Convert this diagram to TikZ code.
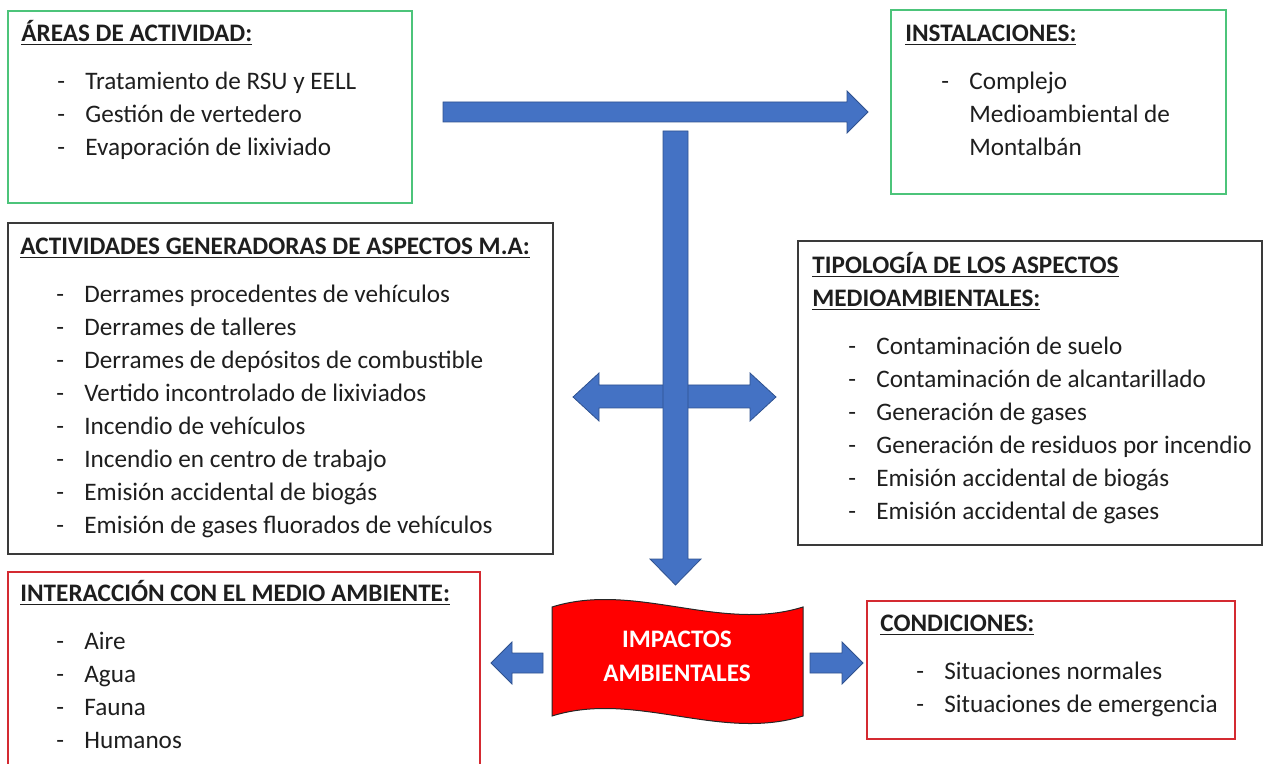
\documentclass[tikz,border=0pt]{standalone}
\usepackage{fontspec}
\setmainfont{Carlito}
\usetikzlibrary{fit}
\definecolor{arrowblue}{HTML}{4472C4}
\definecolor{arrowline}{HTML}{2F528F}
\definecolor{boxgreen}{HTML}{4CC47A}
\definecolor{boxred}{HTML}{D42A31}
\definecolor{boxgray}{HTML}{3A3A3A}
\definecolor{wavered}{HTML}{FF0000}
\definecolor{textgray}{HTML}{1E1E1E}
\newcommand{\boxhead}[1]{\underline{\textbf{#1}}}
\newcommand{\dashitem}[1]{\hspace*{18pt}\makebox[14pt][l]{-}#1}

\begin{document}
\begin{tikzpicture}[x=0.5pt, y=-0.5pt,
  framebox/.style={draw, line width=0.6pt, inner sep=0pt},
  listtext/.style={anchor=north west, inner sep=0pt, align=left, text=textgray, font=\fontsize{12.6}{16.5}\selectfont},
  blockarrow/.style={fill=arrowblue, draw=arrowline, line width=0.4pt, line join=miter}]
  \useasboundingbox (0,0) rectangle (1263,764);

  % Frames
  \node[framebox, boxgreen, fit={(8,11) (412,203)}] (areas) {};
  \node[framebox, boxgreen, fit={(891,10) (1226,194)}] (inst) {};
  \node[framebox, boxgray, fit={(8,223) (553,554)}] (activ) {};
  \node[framebox, boxgray, fit={(798,241) (1262,545)}] (tipo) {};
  \node[framebox, boxred, fit={(8,572) (480,770)}] (inter) {};
  \node[framebox, boxred, fit={(867,601) (1235,739)}] (cond) {};

  % Areas de actividad
  \node[listtext] (areas-txt) at (21,18) {\strut\boxhead{ÁREAS DE ACTIVIDAD:}\\[7.5pt]
    \dashitem{Tratamiento de RSU y EELL}\\
    \dashitem{Gestión de vertedero}\\
    \dashitem{Evaporación de lixiviado}};

  % Instalaciones
  \node[listtext] (inst-txt) at (905,18) {\strut\boxhead{INSTALACIONES:}\\[7.5pt]
    \dashitem{Complejo}\\
    \hspace*{32pt}Medioambiental de\\
    \hspace*{32pt}Montalbán};

  % Actividades generadoras
  \node[listtext] (activ-txt) at (20,231) {\strut\boxhead{ACTIVIDADES GENERADORAS DE ASPECTOS M.A:}\\[7.5pt]
    \dashitem{Derrames procedentes de vehículos}\\
    \dashitem{Derrames de talleres}\\
    \dashitem{Derrames de depósitos de combustible}\\
    \dashitem{Vertido incontrolado de lixiviados}\\
    \dashitem{Incendio de vehículos}\\
    \dashitem{Incendio en centro de trabajo}\\
    \dashitem{Emisión accidental de biogás}\\
    \dashitem{Emisión de gases fluorados de vehículos}};

  % Tipologia
  \node[listtext] (tipo-txt) at (812,250) {\strut\boxhead{TIPOLOGÍA DE LOS ASPECTOS}\\
    \boxhead{MEDIOAMBIENTALES:}\\[7.5pt]
    \dashitem{Contaminación de suelo}\\
    \dashitem{Contaminación de alcantarillado}\\
    \dashitem{Generación de gases}\\
    \dashitem{Generación de residuos por incendio}\\
    \dashitem{Emisión accidental de biogás}\\
    \dashitem{Emisión accidental de gases}};

  % Interaccion
  \node[listtext] (inter-txt) at (20,578) {\strut\boxhead{INTERACCIÓN CON EL MEDIO AMBIENTE:}\\[7.5pt]
    \dashitem{Aire}\\
    \dashitem{Agua}\\
    \dashitem{Fauna}\\
    \dashitem{Humanos}};

  % Condiciones
  \node[listtext] (cond-txt) at (880,608) {\strut\boxhead{CONDICIONES:}\\[7.5pt]
    \dashitem{Situaciones normales}\\
    \dashitem{Situaciones de emergencia}};

  % Block arrows
  \draw[blockarrow] (443,102) -- (847,102) -- (847,91) -- (868,112) -- (847,133)
    -- (847,122) -- (443,122) -- cycle;
  \draw[blockarrow] (573,397) -- (599,373) -- (599,385) -- (750,385) -- (750,373)
    -- (776,397) -- (750,421) -- (750,408) -- (599,408) -- (599,421) -- cycle;
  \draw[blockarrow] (663,131) -- (688,131) -- (688,559) -- (701,559) -- (675.5,585)
    -- (650,559) -- (663,559) -- cycle;
  \draw[blockarrow] (491,663) -- (512,642) -- (512,653) -- (543,653) -- (543,673)
    -- (512,673) -- (512,684) -- cycle;
  \draw[blockarrow] (810,653) -- (842,653) -- (842,642) -- (863,663) -- (842,684)
    -- (842,673) -- (810,673) -- cycle;

  % Impactos (wave)
  \draw[fill=wavered, draw=black!85, line width=0.5pt] (552,607) .. controls (635,581) and (720,633) .. (803,607)
    -- (803,716) .. controls (720,742) and (635,690) .. (552,716) -- cycle;
  \node[font=\fontsize{12.6}{17}\selectfont\bfseries, text=white, align=center] (impactos) at (677,656) {IMPACTOS\\AMBIENTALES};
\end{tikzpicture}
\end{document}
